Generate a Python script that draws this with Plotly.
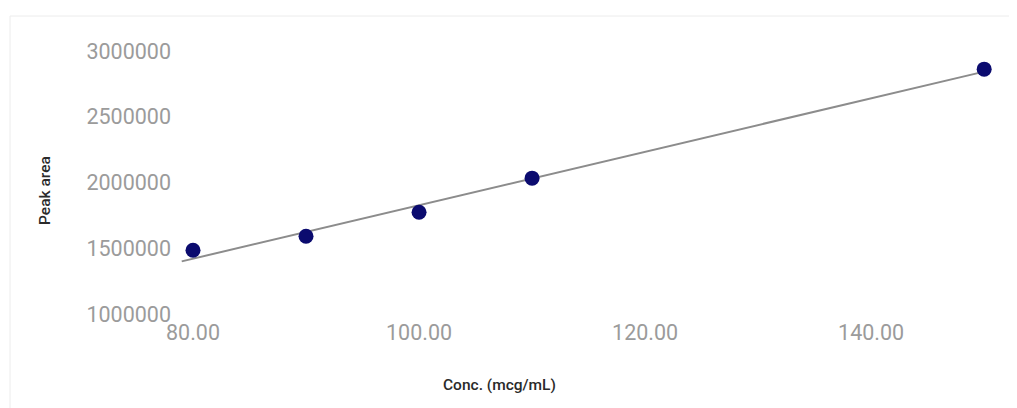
import numpy as np
import plotly.graph_objects as go

conc = [80, 90, 100, 110, 150]
peak_area = [1485000, 1591000, 1774000, 2033000, 2862000]
trend_x = [79, 150]
x_ticks = [80, 100, 120, 140]
x_tick_labels = ["80.00", "100.00", "120.00", "140.00"]
y_ticks = [1000000, 1500000, 2000000, 2500000, 3000000]
y_tick_labels = ["1000000", "1500000", "2000000", "2500000", "3000000"]

slope, intercept = np.polyfit(conc, peak_area, 1)
trend_y = [slope * x + intercept for x in trend_x]

fig = go.Figure()
fig.add_trace(go.Scatter(x=trend_x, y=trend_y, mode="lines",
                         line=dict(color="#8c8c8c", width=2), showlegend=False,
                         hoverinfo="skip"))
fig.add_trace(go.Scatter(x=conc, y=peak_area, mode="markers",
                         marker=dict(color="#0b0b6f", size=15), showlegend=False))

tick_font = dict(family="Roboto, Arial, sans-serif", size=21.5, color="#9b9b9b")
fig.update_xaxes(range=[78.85, 151.4], tickvals=x_ticks, ticktext=x_tick_labels,
                 showgrid=False, zeroline=False, showline=False, ticks="",
                 tickfont=tick_font, ticklabelstandoff=3)
fig.update_yaxes(range=[1000000, 3000000], tickvals=y_ticks, ticktext=y_tick_labels,
                 showgrid=False, zeroline=False, showline=False, ticks="",
                 tickfont=tick_font, ticklabelstandoff=8)

title_font = dict(family="Roboto, Arial, sans-serif", size=15.5, color="#2a2a2a",
                  weight=500)
fig.update_layout(
    width=1017, height=408,
    margin=dict(l=172, r=25, t=43, b=102, autoexpand=False),
    paper_bgcolor="white", plot_bgcolor="white",
    annotations=[
        dict(text="Peak area", xref="paper", yref="paper", x=-0.1646, y=0.468,
             showarrow=False, textangle=-90, font=title_font,
             xanchor="center", yanchor="middle"),
        dict(text="Conc. (mcg/mL)", xref="paper", yref="paper", x=0.39, y=-0.27,
             showarrow=False, font=title_font, xanchor="center", yanchor="middle"),
    ],
    shapes=[
        dict(type="line", xref="paper", yref="paper", x0=-0.2073, x1=1.05,
             y0=1.133, y1=1.133, line=dict(color="#ececec", width=1)),
        dict(type="line", xref="paper", yref="paper", x0=-0.2073, x1=-0.2073,
             y0=1.133, y1=-0.4, line=dict(color="#ececec", width=1)),
    ],
)

fig.write_html("out.html")
